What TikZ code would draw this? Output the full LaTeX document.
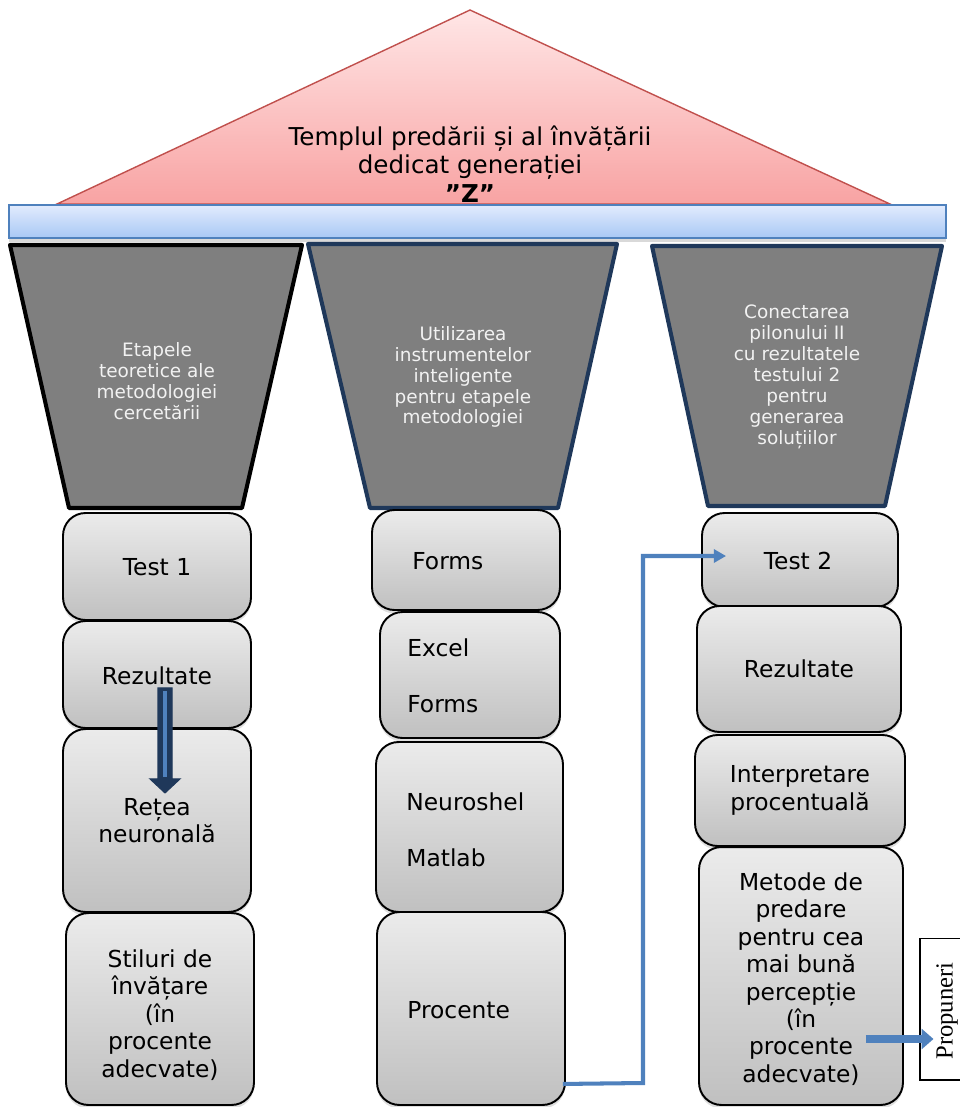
\documentclass[tikz,border=0pt]{standalone}
\usepackage{fontspec}
\setmainfont{DejaVu Sans}
\newfontfamily\serifprop{Liberation Serif}
\usetikzlibrary{shadows,arrows.meta,calc}
\definecolor{roofline}{RGB}{192,80,77}
\definecolor{rooftop}{RGB}{255,230,230}
\definecolor{roofbot}{RGB}{248,163,163}
\definecolor{bartop}{RGB}{226,235,253}
\definecolor{barbot}{RGB}{168,200,245}
\definecolor{barline}{RGB}{79,129,189}
\definecolor{pillarfill}{RGB}{127,127,127}
\definecolor{navy}{RGB}{31,56,90}
\definecolor{pillartext}{RGB}{242,242,242}
\definecolor{boxtop}{RGB}{235,235,235}
\definecolor{boxbot}{RGB}{192,192,192}
\definecolor{linkblue}{RGB}{79,129,189}
\tikzset{
  block/.style={draw=black, line width=1.1pt, rounded corners=0.45cm,
    top color=boxtop, bottom color=boxbot,
    drop shadow={opacity=0.25, shadow xshift=0pt, shadow yshift=-2pt},
    inner sep=0pt, align=center, font=\fontsize{13.3}{15.6}\selectfont},
  btext/.style={anchor=west, inner sep=0pt, font=\fontsize{13.3}{15.6}\selectfont},
  pillar/.style={fill=pillarfill, line width=2.3pt, line join=round},
  ptext/.style={align=center, text=pillartext, inner sep=0pt, font=\fontsize{10.5}{11.9}\selectfont},
  link/.style={draw=linkblue, line width=2.3pt, -{Triangle[width=7.5pt,length=7pt]}},
  fatlink/.style={draw=linkblue, line width=4.5pt, -{Triangle[width=11.4pt,length=6.8pt]}}
}
\begin{document}
\begin{tikzpicture}[x=0.02cm, y=-0.02cm]
\useasboundingbox (0,0) rectangle (960,1107);
% roof
\path[draw=roofline, line width=0.8pt, top color=rooftop, bottom color=roofbot]
  (470,10) -- (890,204) -- (57,204) -- cycle;
\node[align=center, inner sep=0pt, font=\fontsize{14}{16.3}\selectfont] (rooftext) at (470,164)
  {Templul predării și al învățării\\dedicat generației\\\textbf{”Z”}};
% beam
\node[draw=barline, line width=0.8pt, top color=bartop, bottom color=barbot,
  minimum width=18.74cm, minimum height=0.66cm, inner sep=0pt,
  drop shadow={opacity=0.3, shadow xshift=0pt, shadow yshift=-2pt}] (beam) at (477.5,221.5) {};
% pillars
\path[pillar, draw=black] (10,245) -- (302,245) -- (242,508) -- (69,508) -- cycle;
\path[pillar, draw=navy] (308,244) -- (617,244) -- (558,508) -- (370,508) -- cycle;
\path[pillar, draw=navy] (652,246) -- (942,246) -- (885,506) -- (708,506) -- cycle;
\node[ptext] (p1) at (157,381) {Etapele\\teoretice ale\\metodologiei\\cercetării};
\node[ptext] (p2) at (463,377) {Utilizarea\\instrumentelor\\inteligente\\pentru etapele\\metodologiei};
\node[ptext] (p3) at (797,377) {Conectarea\\pilonului II\\cu rezultatele\\testului 2\\pentru\\generarea\\soluțiilor};
% left column
\node[block, minimum width=3.76cm, minimum height=2.14cm] (t1) at (157,566.5) {};
\node[inner sep=0pt, font=\fontsize{13.3}{15.6}\selectfont] (t1t) at (157,567) {Test 1};
\node[block, minimum width=3.76cm, minimum height=2.14cm] (r1) at (157,674.5) {};
\node[inner sep=0pt, font=\fontsize{13.3}{15.6}\selectfont] (r1t) at (157,676) {Rezultate};
\node[block, minimum width=3.76cm, minimum height=3.66cm] (rn) at (157,820.5) {Rețea\\neuronală};
\node[block, minimum width=3.76cm, minimum height=3.84cm] (st) at (160,1009) {};
\node[inner sep=0pt, align=center, font=\fontsize{13.3}{15.6}\selectfont] (stt) at (160,1015) {Stiluri de\\învățare\\(în\\procente\\adecvate)};
% middle column
\node[block, minimum width=3.76cm, minimum height=2.0cm] (f1) at (466,560) {};
\node[btext] (f1t) at (412,561) {Forms};
\node[block, minimum width=3.6cm, minimum height=2.52cm] (ef) at (470,675) {};
\node[btext] (eft1) at (407,648) {Excel};
\node[btext] (eft2) at (407,704) {Forms};
\node[block, minimum width=3.74cm, minimum height=3.4cm] (nm) at (469.5,827) {};
\node[btext] (nmt1) at (406,802) {Neuroshel};
\node[btext] (nmt2) at (406,858) {Matlab};
\node[block, minimum width=3.76cm, minimum height=3.86cm] (pc) at (471,1008.5) {};
\node[btext] (pct) at (407,1010) {Procente};
% right column
\node[block, minimum width=3.92cm, minimum height=1.88cm] (t2) at (800,560) {};
\node[inner sep=0pt, font=\fontsize{13.3}{15.6}\selectfont] (t2t) at (798,561) {Test 2};
\node[block, minimum width=4.08cm, minimum height=2.52cm] (r2) at (799,669) {Rezultate};
\node[block, minimum width=4.2cm, minimum height=2.22cm] (ip) at (800,790.5) {Interpretare\\procentuală};
\node[block, minimum width=4.08cm, minimum height=5.16cm] (md) at (801,976) {};
\node[inner sep=0pt, align=center, font=\fontsize{13.3}{15.6}\selectfont] (mdt) at (801,979)
  {Metode de\\predare\\pentru cea\\mai bună\\percepție\\(în\\procente\\adecvate)};
% proposals box
\node[draw=black, line width=0.6pt, fill=white, minimum width=1.1cm, minimum height=2.84cm, inner sep=0pt] (pr) at (947.5,1009) {};
\node[rotate=90, inner sep=0pt, font=\serifprop\fontsize{14}{16}\selectfont] (prt) at (947,1011) {Propuneri};
% left column arrow (Rezultate -> Retea)
\coordinate (da) at ($(r1.south)+(8,-41)$);
\filldraw[fill=navy, draw=navy, line width=0.6pt, line join=miter]
  ($(da)+(-7,0)$) -- ($(da)+(7,0)$) -- ($(da)+(7,91)$) -- ($(da)+(15,91)$) --
  ($(da)+(0,105)$) -- ($(da)+(-15,91)$) -- ($(da)+(-7,91)$) -- cycle;
\draw[linkblue, line width=2.2pt] ($(da)+(0,3)$) -- ($(da)+(0,89)$);
% connector Procente -> Test 2
\coordinate (cs) at ($(pc.south east)+(-3,-22)$);
\coordinate (cb) at (643,1083);
\coordinate (cu) at (643,556);
\coordinate (ce) at ($(t2.west)+(25,-4)$);
\draw[link] (cs) -- (cb) -- (cu) -- (ce);
% arrow Metode -> Propuneri
\draw[fatlink] ($(md.east)+(-38,63)$) -- ($(pr.west)+(14,30)$);
\end{tikzpicture}
\end{document}
